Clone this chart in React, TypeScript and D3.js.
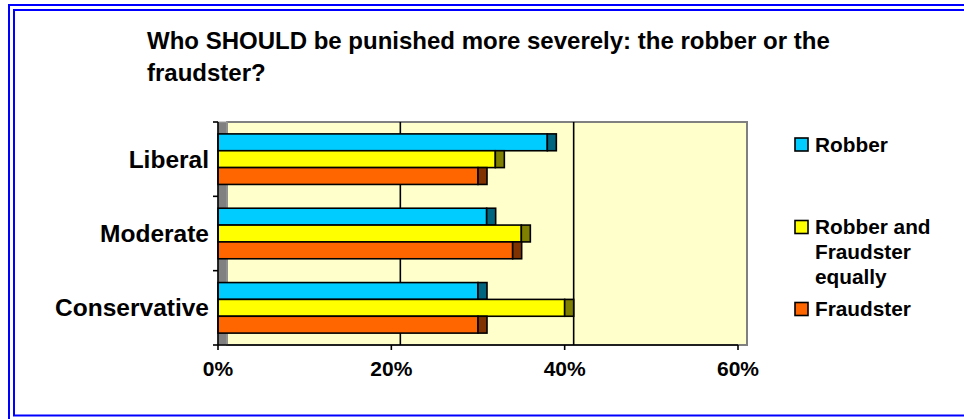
import React from "react";
import * as d3 from "d3";

// Survey answers by political leaning (percent of respondents)
const categories = ["Liberal", "Moderate", "Conservative"];
const seriesNames = ["Robber", "Robber and Fraudster equally", "Fraudster"];
const robber = [38, 31, 30];
const both = [32, 35, 40];
const fraudster = [30, 34, 30];
const xTicks = [0, 20, 40, 60];
const titleLines = [
  "Who SHOULD be punished more severely: the robber or the",
  "fraudster?",
];
const legendLines = [["Robber"], ["Robber and", "Fraudster", "equally"], ["Fraudster"]];

const seriesValues = [robber, both, fraudster];
const faceColors = ["#00CCFF", "#FFFF00", "#FF6600"];
const sideColors = ["#006680", "#808000", "#803300"];

const FONT = "'Liberation Sans', Arial, Helvetica, sans-serif";

export default function App() {
  const W = 964;
  const H = 419;
  const depth = 9;
  const top = 122;
  const bottom = 345;
  const xFront = d3.scaleLinear().domain([0, 60]).range([218, 738]);
  const xBack = d3.scaleLinear().domain([0, 60]).range([218 + depth, 738 + depth]);
  const y0 = d3.scaleBand<string>().domain(categories).range([top, bottom]).padding(0);
  const bw = y0.bandwidth();
  const y1 = d3
    .scaleBand<string>()
    .domain(seriesNames)
    .range([bw * 0.16, bw * 0.84])
    .padding(0);

  const legendY = [151.5, 234, 316];

  return (
    <svg
      width={W}
      height={H}
      style={{ position: "absolute", left: 0, top: 0, background: "#fff" }}
      fontFamily={FONT}
    >
      {/* double blue frame */}
      <rect x={9} y={5} width={W + 20} height={H + 20} fill="none" stroke="#0000FF" strokeWidth={2} />
      <rect x={14} y={10} width={W + 20} height={405.5} fill="none" stroke="#0000FF" strokeWidth={2} />

      {/* title */}
      {titleLines.map((t, i) => (
        <text key={i} x={147} y={49 + i * 32} fontSize={24} fontWeight="bold" fill="#000">
          {t}
        </text>
      ))}

      {/* back wall */}
      <rect
        x={xBack(0)}
        y={top}
        width={xBack(60) - xBack(0)}
        height={bottom - top}
        fill="#FFFFCC"
        stroke="#808080"
        strokeWidth={2}
      />
      {/* side wall */}
      <rect x={xFront(0)} y={top} width={depth} height={bottom - top} fill="#808080" stroke="#a0a0a0" strokeWidth={1} />

      {/* gridlines on the back wall */}
      {xTicks
        .filter((t) => t > 0 && t < 60)
        .map((t) => (
          <line key={t} x1={xBack(t)} x2={xBack(t)} y1={top} y2={bottom} stroke="#000" strokeWidth={1.6} />
        ))}

      {/* bars with 3D end faces */}
      {categories.map((c, ci) =>
        seriesNames.map((s, si) => {
          const v = seriesValues[si][ci];
          const y = (y0(c) ?? 0) + (y1(s) ?? 0);
          const h = y1.bandwidth();
          const x0 = xFront(0);
          const x1 = xFront(v);
          return (
            <g key={c + s}>
              <rect x={x0} y={y} width={x1 - x0} height={h} fill={faceColors[si]} stroke="#000" strokeWidth={1.6} />
              <rect x={x1} y={y} width={depth} height={h} fill={sideColors[si]} stroke="#000" strokeWidth={1.6} />
            </g>
          );
        })
      )}

      {/* value axis */}
      <line x1={xFront(0)} x2={xFront(60)} y1={bottom} y2={bottom} stroke="#000" strokeWidth={1.6} />
      {xTicks.map((t) => (
        <g key={t}>
          <line x1={xFront(t)} x2={xFront(t)} y1={bottom} y2={bottom + 5} stroke="#000" strokeWidth={1.6} />
          <text x={xFront(t)} y={376} textAnchor="middle" fontSize={21} fontWeight="bold" fill="#000">
            {t}%
          </text>
        </g>
      ))}

      {/* category axis */}
      <line x1={xFront(0)} x2={xFront(0)} y1={top} y2={bottom} stroke="#000" strokeWidth={1.6} />
      {[...categories.map((c) => y0(c) ?? 0), bottom].map((y, i) => (
        <line key={i} x1={xFront(0) - 5} x2={xFront(0)} y1={y} y2={y} stroke="#000" strokeWidth={1.6} />
      ))}
      {categories.map((c) => (
        <text
          key={c}
          x={209}
          y={(y0(c) ?? 0) + bw / 2 + 8.5}
          textAnchor="end"
          fontSize={24.5}
          fontWeight="bold"
          fill="#000"
        >
          {c}
        </text>
      ))}

      {/* legend */}
      {legendLines.map((lines, i) => (
        <g key={i}>
          <rect x={795} y={legendY[i] - 13.5} width={13} height={13} fill={faceColors[i]} stroke="#000" strokeWidth={1.6} />
          {lines.map((l, j) => (
            <text key={j} x={815} y={legendY[i] + j * 25} fontSize={20.8} fontWeight="bold" fill="#000">
              {l}
            </text>
          ))}
        </g>
      ))}
    </svg>
  );
}
